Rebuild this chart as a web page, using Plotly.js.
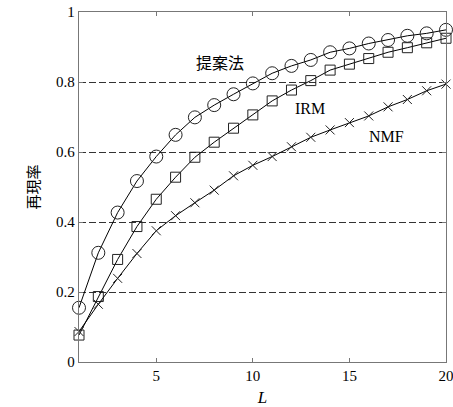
<!DOCTYPE html>
<html>
<head>
<meta charset="utf-8">
<script src="https://cdn.plot.ly/plotly-3.0.1.min.js"></script>
<style>html,body{margin:0;padding:0;background:#fff;}#chart{width:453px;height:407px;}</style>
</head>
<body>
<div id="chart"></div>
<script>
const L = [1,2,3,4,5,6,7,8,9,10,11,12,13,14,15,16,17,18,19,20];
const proposed = [0.155,0.312,0.427,0.517,0.587,0.649,0.699,0.734,0.765,0.796,0.825,0.846,0.863,0.885,0.896,0.910,0.920,0.932,0.939,0.949];
const irm = [0.077,0.187,0.293,0.387,0.465,0.528,0.585,0.628,0.668,0.706,0.746,0.777,0.804,0.834,0.851,0.867,0.885,0.898,0.912,0.925];
const nmf = [0.087,0.165,0.239,0.310,0.375,0.418,0.455,0.491,0.532,0.562,0.587,0.615,0.642,0.663,0.684,0.703,0.729,0.750,0.775,0.794];
const seriesNames = ['提案法','IRM','NMF'];
const labelPos = [[8.3,0.858],[12.96,0.723],[16.94,0.645]];
const yTicks = [0,0.2,0.4,0.6,0.8,1];
const yTickText = ['0','0.2','0.4','0.6','0.8','1'];
const xTicks = [5,10,15,20];

const serif = 'Liberation Serif, Times New Roman, serif';
const cjk = 'Noto Sans CJK JP, Noto Sans CJK SC, sans-serif';

function tr(y, sym, size){
  return {x:L, y:y, type:'scatter', mode:'lines+markers', cliponaxis:false,
    line:{color:'#000', width:1},
    marker:{symbol:sym, size:size, color:'#222', line:{color:'#222', width:1}}};
}
const data = [tr(proposed,'circle-open',13), tr(irm,'square-open',10), tr(nmf,'x-thin-open',9)];

const layout = {
  width:453, height:407,
  margin:{l:79, r:7, t:12, b:45},
  paper_bgcolor:'#fff', plot_bgcolor:'#fff',
  showlegend:false,
  font:{family:serif, size:15, color:'#000'},
  xaxis:{range:[1,20], tickvals:xTicks, ticks:'inside', ticklen:4, tickcolor:'#777',
    ticklabeloverflow:'allow',
    showline:true, linecolor:'#777', linewidth:1.3, mirror:'ticks', showgrid:false, zeroline:false,
    tickfont:{family:serif, size:15},
    title:{text:'<i>L</i>', font:{family:serif, size:17}, standoff:8}},
  yaxis:{range:[0,1], tickvals:yTicks, ticktext:yTickText, ticks:'inside', ticklen:4, tickcolor:'#777',
    ticklabeloverflow:'allow',
    showline:true, linecolor:'#777', linewidth:1.3, mirror:'ticks', zeroline:false,
    showgrid:true, gridcolor:'#333', griddash:'7px,3px', gridwidth:1,
    tickfont:{family:serif, size:15},
    title:{text:'再現率', font:{family:cjk, size:15}, standoff:12}},
  annotations: seriesNames.map((n,i)=>({x:labelPos[i][0], y:labelPos[i][1], text:n, showarrow:false,
    font:{family: i===0 ? cjk : serif, size:16, color:'#000'}}))
};
Plotly.newPlot('chart', data, layout, {staticPlot:true});
</script>
</body>
</html>
